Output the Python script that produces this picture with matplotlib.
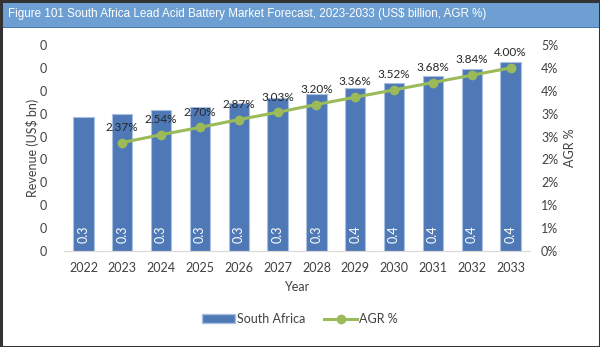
import matplotlib
matplotlib.use("Agg")
import matplotlib.pyplot as plt
from matplotlib.patches import Rectangle
from matplotlib.lines import Line2D
import numpy as np

years = ["2022", "2023", "2024", "2025", "2026", "2027", "2028", "2029", "2030", "2031", "2032", "2033"]
revenue = [0.292, 0.299, 0.307, 0.315, 0.324, 0.334, 0.344, 0.356, 0.368, 0.382, 0.397, 0.413]
agr_years = years[1:]
agr = [2.37, 2.54, 2.70, 2.87, 3.03, 3.20, 3.36, 3.52, 3.68, 3.84, 4.00]
left_ticks = [0, 0.05, 0.10, 0.15, 0.20, 0.25, 0.30, 0.35, 0.40, 0.45]
left_labels = ["0"] * 10
right_ticks = [0, 0.5, 1.0, 1.5, 2.0, 2.5, 3.0, 3.5, 4.0, 4.5]
right_labels = ["0%", "1%", "1%", "2%", "2%", "3%", "3%", "4%", "4%", "5%"]

title = "Figure 101 South Africa Lead Acid Battery Market Forecast, 2023-2033 (US$ billion, AGR %)"

FONT = ["Lato", "DejaVu Sans"]
TXT = "#404040"
BAR = "#4F79B6"
GREEN = "#9BBB59"

fig = plt.figure(figsize=(6.0, 3.47), dpi=100)
fig.patch.set_facecolor("white")

# title bar
fig.add_artist(Rectangle((0, 1 - 27/347), 1, 27/347, transform=fig.transFigure,
                         facecolor="#6E9FD2", edgecolor="none", zorder=0))
fig.add_artist(Rectangle((0, 1 - 28/347), 1, 1.5/347, transform=fig.transFigure,
                         facecolor="#4A78AE", edgecolor="none", zorder=1))
fig.text(8/600, 1 - 14/347, title, color="white", fontsize=8.4,
         family=["Liberation Sans", "DejaVu Sans"], va="center", ha="left")
# outer frame
fig.add_artist(Rectangle((0.5/600, 0.5/347), 1 - 1/600, 1 - 1/347, transform=fig.transFigure,
                         facecolor="none", edgecolor="#333333", linewidth=2.2, zorder=5))

ax = fig.add_axes([64/600, 1 - 251/347, (530 - 64)/600, (251 - 45)/347])
x = np.arange(len(years))
bars = ax.bar(x, revenue, width=0.52, color=BAR, edgecolor="#A9C0E0", linewidth=0.8, zorder=2)
ax.set_xlim(-0.5, len(years) - 0.5)
ax.set_ylim(0, 0.45)
ax.set_yticks(left_ticks)
ax.set_yticklabels(left_labels)
ax.set_xticks(x)
ax.set_xticklabels(years)
for s in ["top", "right", "left"]:
    ax.spines[s].set_visible(False)
ax.spines["bottom"].set_color("#D9D9D9")
ax.tick_params(axis="both", length=0, colors=TXT, labelsize=9)
ax.tick_params(axis="x", pad=8)
ax.tick_params(axis="y", pad=12)
for lab in ax.get_xticklabels() + ax.get_yticklabels():
    lab.set_family(FONT)
ax.set_ylabel("Revenue (US$ bn)", family=FONT, fontsize=9, color=TXT, labelpad=1)
ax.set_xlabel("Year", family=FONT, fontsize=9, color=TXT, labelpad=5)

for xi, v in zip(x, revenue):
    ax.text(xi, 0.037, f"{v:.1f}", rotation=90, color="white", ha="center", va="center",
            family=FONT, fontsize=9, zorder=3)

ax2 = ax.twinx()
ax2.set_ylim(0, 4.5)
xa = np.arange(1, len(years))
ax2.plot(xa, agr, color=GREEN, linewidth=2.2, marker="o", markersize=6, zorder=4)
ax2.set_yticks(right_ticks)
ax2.set_yticklabels(right_labels)
for s in ["top", "right", "left", "bottom"]:
    ax2.spines[s].set_visible(False)
ax2.tick_params(axis="y", length=0, colors=TXT, labelsize=9, pad=8)
for lab in ax2.get_yticklabels():
    lab.set_family(FONT)
ax2.set_ylabel("AGR %", family=FONT, fontsize=9, color=TXT, labelpad=4)
for xi, v in zip(xa, agr):
    ax2.annotate(f"{v:.2f}%", (xi, v), xytext=(0, 11), textcoords="offset points",
                 ha="center", va="center", fontsize=8.5, family=FONT, color="#262626", zorder=5)
ax2.set_xlim(-0.5, len(years) - 0.5)

handles = [Rectangle((0, 0), 1, 1, facecolor=BAR, edgecolor="#A9C0E0"),
           Line2D([0], [0], color=GREEN, linewidth=2.2, marker="o", markersize=6)]
fig.legend(handles, ["South Africa", "AGR %"], loc="center", bbox_to_anchor=(0.5, 1 - 319/347),
           ncol=2, frameon=False, prop={"family": FONT, "size": 9}, labelcolor=TXT,
           handlelength=2.6, handletextpad=0.2, columnspacing=1.5)

fig.savefig("out.png", dpi=100, facecolor="white")
